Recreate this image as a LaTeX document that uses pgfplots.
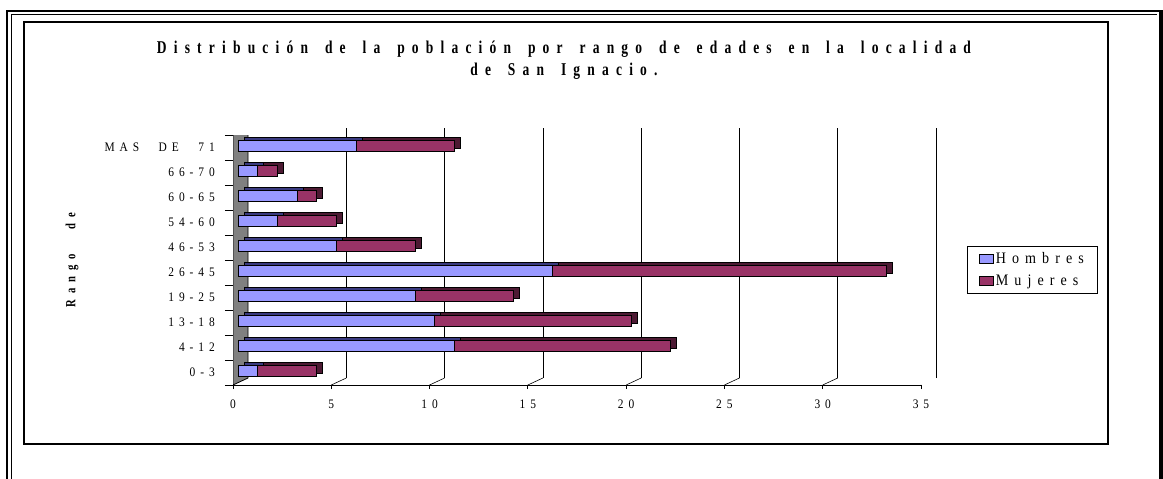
\documentclass[border=0pt]{standalone}
\usepackage{fontspec}
\setmainfont{Liberation Serif}[LetterSpace=38, FakeStretch=0.88, WordSpace=2.5]
\newfontfamily\titlefont{Liberation Serif}[LetterSpace=40, FakeStretch=0.75, WordSpace=1.6]
\newfontfamily\rangofont{Liberation Serif}[LetterSpace=41, FakeStretch=0.76, WordSpace=3]
\usepackage{pgfplots}
\usepackage{pgfplotstable}
\pgfplotsset{compat=1.18}

\definecolor{hombres}{HTML}{9999FF}
\definecolor{mujeres}{HTML}{993366}
\definecolor{hombresdark}{HTML}{3A3A80}
\definecolor{mujeresdark}{HTML}{4D1A33}
\definecolor{pared}{HTML}{808080}

% idx 0 = 0-3 ... idx 9 = MAS DE 71
\pgfplotstableread{
idx hombres mujeres
0   1   3
1   11  11
2   10  10
3   9   5
4   16  17
5   5   4
6   2   3
7   3   1
8   1   1
9   6   5
}\edades

\pgfplotsset{
  placa/.style={anchor=south west, width=688bp, height=250bp, scale only axis,
    xmin=0, xmax=35, ymin=-0.5, ymax=9.5},
  caja/.style={legend image code/.code={\draw[##1, line width=0.8bp] (0bp,-4.5bp) rectangle (14bp,4.5bp);}},
}

\begin{document}
\begin{tikzpicture}
\useasboundingbox (0bp,0bp) rectangle (1163bp,-479bp);
% marcos
\draw[line width=2bp] (6bp,-11bp) -- (1163bp,-11bp);
\draw[line width=1bp] (11bp,-14.5bp) -- (1157bp,-14.5bp);
\draw[line width=2bp] (7bp,-10bp) -- (7bp,-479bp);
\draw[line width=1bp] (11bp,-14bp) -- (11bp,-479bp);
\draw[line width=4bp] (1161bp,-10bp) -- (1161bp,-479bp);
\draw[line width=2bp] (23.5bp,-22bp) rectangle (1108bp,-444bp);

% plano del fondo: lineas de division
\begin{axis}[placa, at={(248bp,-378bp)},
  xtick={5,10,...,35}, xticklabels={}, ytick=\empty,
  xmajorgrids, major grid style={black, line width=0.6bp},
  axis line style={draw=none}, major tick length=0pt]
\end{axis}

% ejes delanteros, pared y rotulos
\begin{axis}[placa, at={(233bp,-385bp)},
  axis x line*=bottom, axis y line*=left,
  axis line style={black, line width=0.8bp, -},
  xtick={0,5,...,35}, xticklabels={0,5,10,15,20,25,30,35},
  ytick={0,...,9},
  yticklabels={0-3,4-12,13-18,19-25,26-45,46-53,54-60,60-65,66-70,MAS DE 71},
  minor ytick={-0.5,0.5,...,9.5},
  tick align=outside, major tick length=4bp, minor tick length=8bp,
  major y tick style={draw=none},
  every tick/.style={black, line width=0.8bp},
  tick label style={font=\fontsize{13bp}{15bp}\selectfont},
  yticklabel style={anchor=east, inner sep=0pt, xshift=-14bp},
  xticklabel style={anchor=north, inner sep=0pt, yshift=-11bp},
  title={Distribución de la población por rango de edades en la localidad\\de San Ignacio.},
  title style={at={(axis description cs:0.481,1.274)}, anchor=center, align=center,
    font=\titlefont\bfseries\fontsize{18bp}{22bp}\selectfont},
  ylabel={Rango de},
  every axis y label/.style={at={(axis description cs:-0.234,0.5)}, rotate=90, anchor=center,
    font=\rangofont\bfseries\fontsize{14bp}{16bp}\selectfont},
]
\draw[fill=pared, line width=0.8bp] (axis cs:0,-0.5) -- ++(15bp,7bp) -- ++(0bp,250bp) -- (axis cs:0,9.5) -- cycle;
\pgfplotsinvokeforeach{5,10,...,35}{\draw[line width=0.6bp] (axis cs:#1,-0.5) -- ++(15bp,7bp);}
\end{axis}

% caras de fondo de las barras
\begin{axis}[placa, at={(238bp,-383.5bp)}, hide axis, xbar stacked, bar width=10.5bp]
\addplot[fill=hombresdark, draw=black, line width=0.8bp, xshift=6bp, yshift=3bp] table[x=hombres, y=idx] {\edades};
\addplot[fill=mujeresdark, draw=black, line width=0.8bp, xshift=6bp, yshift=3bp] table[x=mujeres, y=idx] {\edades};
\end{axis}

% caras delanteras de las barras
\begin{axis}[placa, at={(238bp,-383.5bp)}, hide axis, xbar stacked, bar width=10.5bp,
  legend style={at={(1.059,0.55)}, anchor=north west, draw=black, line width=0.8bp,
    font=\fontsize{16bp}{18bp}\selectfont, inner xsep=12bp, inner ysep=4bp, row sep=6bp,
    /tikz/every even column/.append style={column sep=5bp}},
  legend cell align=left]
\addplot[caja, fill=hombres, draw=black, line width=0.8bp] table[x=hombres, y=idx] {\edades};
\addplot[caja, fill=mujeres, draw=black, line width=0.8bp] table[x=mujeres, y=idx] {\edades};
\legend{Hombres, Mujeres}
\end{axis}
\end{tikzpicture}
\end{document}
